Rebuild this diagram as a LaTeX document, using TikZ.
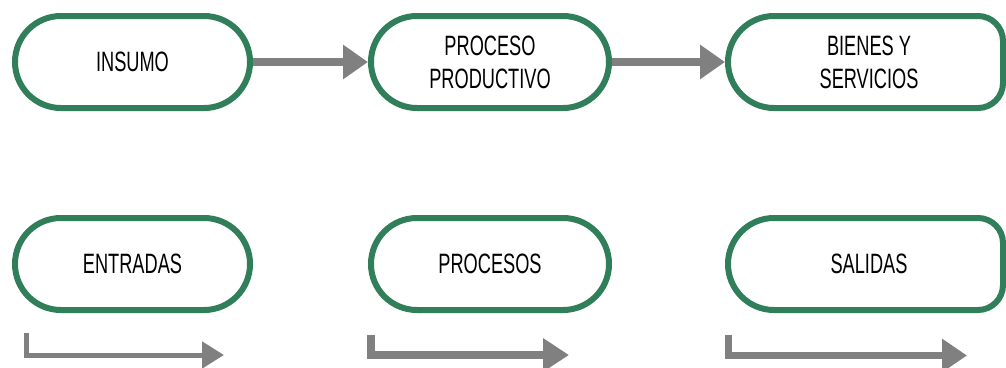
\documentclass[tikz,border=0pt]{standalone}
\usepackage{fontspec}
\setmainfont{Liberation Sans}[FakeStretch=0.65]
\usetikzlibrary{arrows.meta}
\definecolor{boxgreen}{RGB}{48,126,90}
\definecolor{arrgray}{RGB}{128,128,128}
\tikzset{
  pilltext/.style={rectangle, minimum height=92pt, inner sep=0pt, outer sep=3pt,
    align=center, font=\fontsize{28}{33}\selectfont},
  pill/.style={pilltext, draw=boxgreen, line width=6pt, rounded corners=45.9pt, fill=white},
  pillline/.style={draw=boxgreen, line width=6pt, fill=white},
  flowarrow/.style={draw=arrgray, line width=8pt,
    -{Triangle[length=25pt,width=33pt]}},
  elbowarrow/.style={draw=arrgray}
}
\begin{document}
\begin{tikzpicture}[x=1pt,y=-1pt]
\useasboundingbox (0,0) rectangle (1006,367);
% clipped right-hand pills
\draw[pillline] (774,16) -- (978,16) arc[start angle=-90, end angle=0, radius=25]
  -- (1003,83) arc[start angle=0, end angle=90, radius=25]
  -- (774,108) arc[start angle=90, end angle=270, radius=46] -- cycle;
\draw[pillline] (774,218) -- (978,218) arc[start angle=-90, end angle=0, radius=25]
  -- (1003,285) arc[start angle=0, end angle=90, radius=25]
  -- (774,310) arc[start angle=90, end angle=270, radius=46] -- cycle;
% top row
\node[pill, minimum width=235pt] (insumo) at (132.5,62) {INSUMO};
\node[pill, minimum width=238pt] (proceso) at (490,62) {PROCESO\\PRODUCTIVO};
\node[pilltext, minimum width=282pt] (bienes) at (869,62) {BIENES Y\\SERVICIOS};
\draw[flowarrow] (insumo.east) -- (proceso.west);
\draw[flowarrow] (proceso.east) -- (bienes.west);
% bottom row
\node[pill, minimum width=235pt] (entradas) at (132.5,264) {ENTRADAS};
\node[pill, minimum width=238pt] (procesos) at (490,264) {PROCESOS};
\node[pilltext, minimum width=282pt] (salidas) at (869,264) {SALIDAS};
% elbow arrows
\coordinate (e1s) at (26,333);
\coordinate (e1t) at (224,355);
\coordinate (e2s) at (371,335);
\coordinate (e2t) at (569,355);
\coordinate (e3s) at (728.5,335);
\coordinate (e3t) at (967,355.5);
\draw[elbowarrow, line width=5pt, -{Triangle[length=22pt,width=26pt]}] (e1s) |- (e1t);
\draw[elbowarrow, line width=8pt, -{Triangle[length=26pt,width=32pt]}] (e2s) |- (e2t);
\draw[elbowarrow, line width=7pt, -{Triangle[length=25pt,width=32pt]}] (e3s) |- (e3t);
\end{tikzpicture}
\end{document}
